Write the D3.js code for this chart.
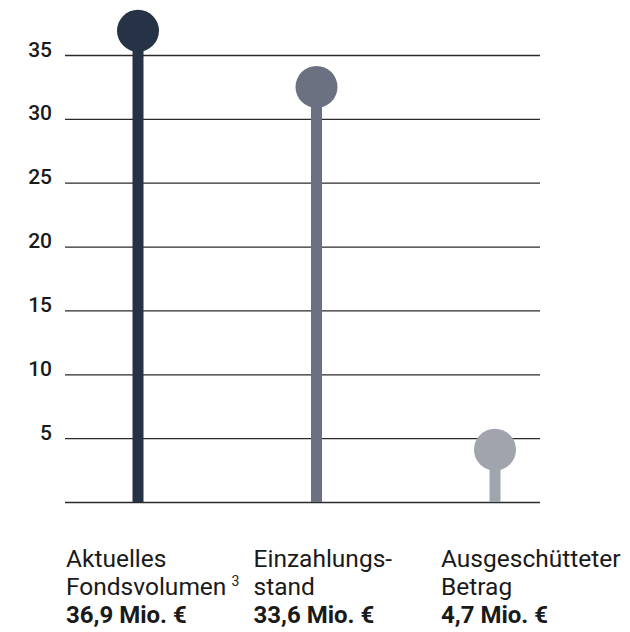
<!DOCTYPE html>
<html>
  <head>
    <meta charset="utf-8">
    <style>
      body { margin: 0; background: #fff; }
      text { font-family: Roboto, "Noto Sans", sans-serif; fill: #1a1a1a; }
    </style>
  </head>
  <body>
    <div id="chart"></div>
    <script src="https://d3js.org/d3.v7.min.js"></script>
    <script>

    // ---------------------------------------------- data
    var categories = ["fonds", "einzahlung", "ausschuettung"];
    var values = [36.9, 32.5, 4.1];
    var labelLine1 = ["Aktuelles", "Einzahlungs-", "Ausgeschütteter"];
    var labelLine2 = ["Fondsvolumen", "stand", "Betrag"];
    var labelSup = ["3", "", ""];
    var labelValue = ["36,9 Mio. €", "33,6 Mio. €", "4,7 Mio. €"];
    var yTicks = [5, 10, 15, 20, 25, 30, 35];
    var colors = ["#263246", "#6b7180", "#9fa4ad"];

    // ---------------------------------------------- setup
    var width = 630, height = 632;

    var svg = d3.select("#chart").append("svg")
        .attr("width", width)
        .attr("height", height);

    var y = d3.scaleLinear()
        .domain([0, 35])
        .range([502, 55]);

    var x = d3.scalePoint()
        .domain(categories)
        .range([138, 495]);

    var xLabel = d3.scalePoint()
        .domain(categories)
        .range([66, 441]);

    // gridlines + tick labels
    var yAxis = d3.axisLeft(y)
        .tickValues([0].concat(yTicks))
        .tickSize(-475)
        .tickFormat(function(d) { return d === 0 ? "" : d; });

    var gAxis = svg.append("g")
        .attr("transform", "translate(65,0)")
        .call(yAxis);

    gAxis.select(".domain").remove();
    gAxis.selectAll(".tick line")
        .attr("stroke", "#2b2b2b")
        .attr("stroke-width", 1.3);
    gAxis.selectAll(".tick text")
        .attr("x", -13)
        .attr("dy", "0.05em")
        .style("font-size", "21px")
        .style("font-weight", 500)
        .style("fill", "#1a1a1a");

    // ---------------------------------------------- lollipops
    var data = categories.map(function(c, i) {
        return {key: c, value: values[i], color: colors[i]};
    });

    var pops = svg.append("g").selectAll("g")
        .data(data)
        .enter().append("g");

    pops.append("line")
        .attr("x1", function(d) { return x(d.key); })
        .attr("x2", function(d) { return x(d.key); })
        .attr("y1", y(0))
        .attr("y2", function(d) { return y(d.value); })
        .attr("stroke", function(d) { return d.color; })
        .attr("stroke-width", 11);

    pops.append("circle")
        .attr("cx", function(d) { return x(d.key); })
        .attr("cy", function(d) { return y(d.value); })
        .attr("r", 21)
        .attr("fill", function(d) { return d.color; });

    // ---------------------------------------------- labels
    var labels = svg.append("g").selectAll("text")
        .data(categories)
        .enter().append("text")
        .attr("x", function(d) { return xLabel(d); })
        .attr("y", 567)
        .style("font-size", "24.5px");

    labels.append("tspan")
        .text(function(d, i) { return labelLine1[i]; });

    labels.append("tspan")
        .attr("x", function(d) { return xLabel(d); })
        .attr("dy", 28)
        .text(function(d, i) { return labelLine2[i]; });

    labels.filter(function(d, i) { return labelSup[i] !== ""; })
        .append("tspan")
        .attr("dx", 5)
        .attr("dy", -9)
        .style("font-size", "14px")
        .text(function(d) { return labelSup[categories.indexOf(d)]; });

    svg.append("g").selectAll("text")
        .data(categories)
        .enter().append("text")
        .attr("x", function(d) { return xLabel(d); })
        .attr("y", 623)
        .style("font-size", "24px")
        .style("font-weight", 700)
        .text(function(d, i) { return labelValue[i]; });

    </script>
  </body>
</html>
